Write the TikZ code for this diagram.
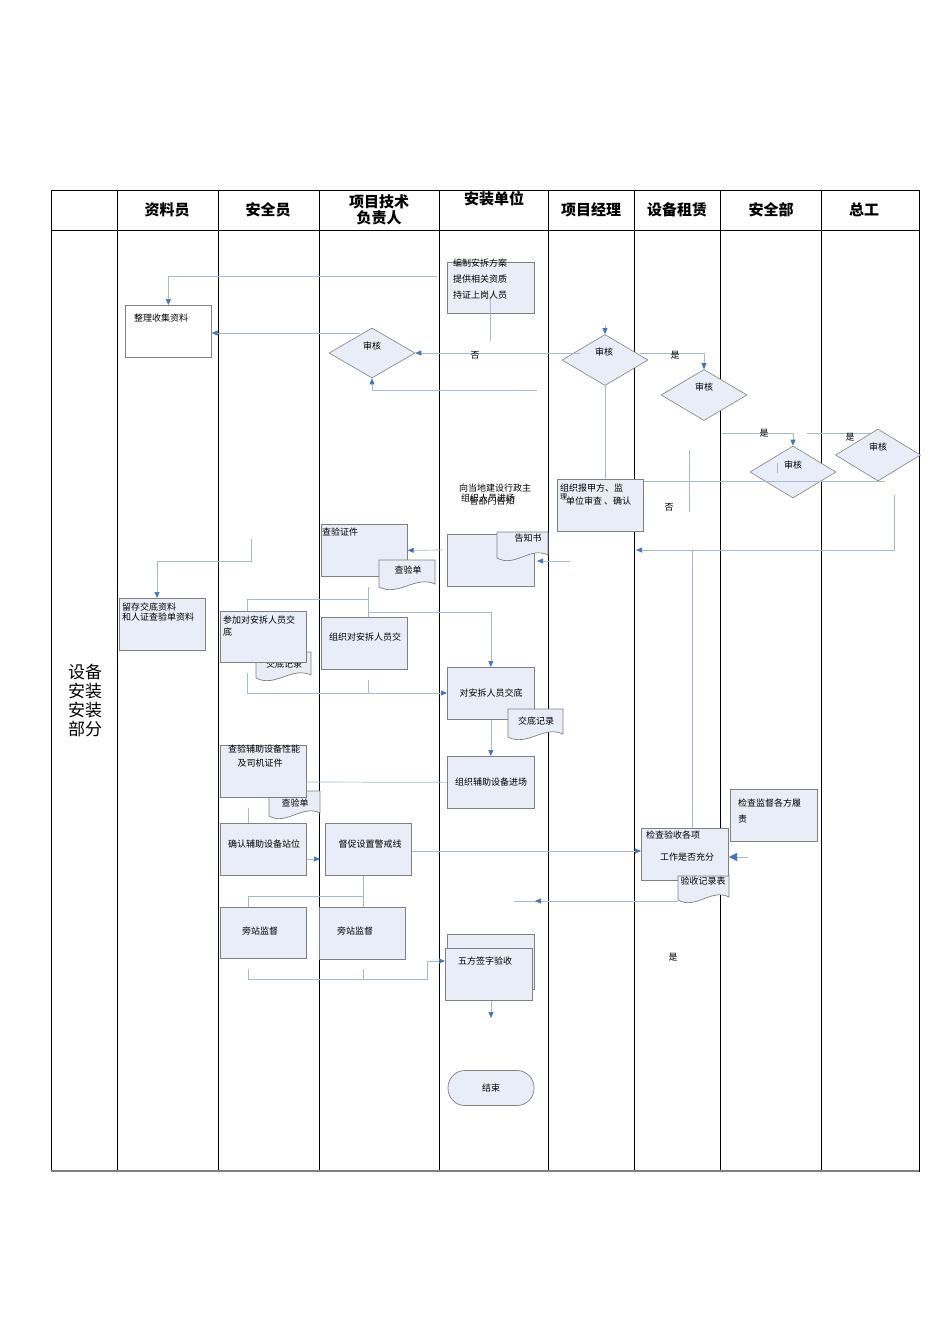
\documentclass[tikz,border=0pt]{standalone}
\usepackage{fontspec}
\setmainfont{Noto Sans CJK SC}
\usetikzlibrary{shapes.geometric,arrows.meta}
\definecolor{boxfill}{RGB}{232,237,247}
\definecolor{boxdraw}{RGB}{128,128,128}
\definecolor{connc}{RGB}{165,184,214}
\definecolor{arrc}{RGB}{68,114,196}
\tikzset{
 tbl/.style={draw=black, line width=0.8pt},
 flowbox/.style={draw=boxdraw, fill=boxfill, line width=0.7pt, inner sep=0pt},
 whitebox/.style={draw=boxdraw, fill=white, line width=0.7pt, inner sep=0pt},
 decision/.style={diamond, draw=boxdraw, fill=boxfill, line width=0.6pt, inner sep=0pt},
 flowdoc/.style={draw=boxdraw, fill=boxfill, line width=0.7pt},
 txt/.style={inner sep=0pt, font=\fontsize{9}{10}\selectfont},
 head/.style={inner sep=0pt, align=center, font=\fontsize{15}{16}\selectfont\bfseries},
 conn/.style={draw=connc, line width=0.7pt, -{Triangle[length=6pt,width=5pt,color=arrc,fill=arrc]}},
 bigconn/.style={draw=connc, line width=0.9pt, -{Triangle[length=8pt,width=8pt,color=arrc,fill=arrc]}},
 plainline/.style={draw=connc, line width=0.7pt},
}
\newcommand\docshape[4]{\path[flowdoc] (#1,#2) -- (#3,#2) -- (#3,{#4-3}) .. controls ({#1+0.65*(#3-#1)},{#4-12}) and ({#1+0.35*(#3-#1)},{#4+10}) .. (#1,#4) -- cycle;}
\begin{document}
\begin{tikzpicture}[x=1pt,y=-1pt]
\useasboundingbox[fill=white] (0,0) rectangle (950,1344);
% table
\draw[tbl] (51,190) rectangle (919,1171);
\draw[tbl] (51,230) -- (919,230);
\foreach \x in {117,218,319,439,548,634,720,821} \draw[tbl] (\x,190) -- (\x,1171);
\draw[line width=2pt, draw=gray] (51,1171) -- (919,1171);
% headers
\node[head] (h1) at (167,210) {资料员};
\node[head] (h2) at (268,210) {安全员};
\node[head] (h3a) at (379,202) {项目技术};
\node[head] (h3b) at (379,218) {负责人};
\node[head] (h4) at (494,199) {安装单位};
\node[head] (h5) at (591,210) {项目经理};
\node[head] (h6) at (677,210) {设备租赁};
\node[head] (h7) at (771,210) {安全部};
\node[head] (h8) at (864,210) {总工};
\node[inner sep=0pt, align=center, font=\fontsize{17}{19}\selectfont] (lane) at (85,701) {设备\\安装\\安装\\部分};
% shapes
\node[flowbox, minimum width=87pt, minimum height=51pt, anchor=north west] (b1) at (447,262) {};
\node[whitebox, minimum width=86pt, minimum height=52pt, anchor=north west] (b2) at (125,305) {};
\node[decision, minimum width=86pt, minimum height=50pt] (d1) at (372,353) {};
\node[decision, minimum width=86pt, minimum height=51pt] (d2) at (605,360) {};
\node[decision, minimum width=86pt, minimum height=51pt] (d3) at (704,395) {};
\node[decision, minimum width=86pt, minimum height=52pt] (d4) at (793,472) {};
\node[decision, minimum width=85pt, minimum height=52pt] (d5) at (878,455) {};
\node[flowbox, minimum width=86pt, minimum height=52pt, anchor=north west] (b3) at (557,479) {};
\node[flowbox, minimum width=86pt, minimum height=52pt, anchor=north west] (b4) at (321,524) {};
\docshape{379}{560}{435}{587}
\node[flowbox, minimum width=87pt, minimum height=52pt, anchor=north west] (b5) at (447,534) {};
\docshape{497}{532}{548}{558}
\node[flowbox, minimum width=86pt, minimum height=52pt, anchor=north west] (b6) at (119,598) {};
\docshape{256}{652}{311}{678}
\node[txt] (tdoc3) at (284,664) {交底记录};
\node[flowbox, minimum width=86pt, minimum height=51pt, anchor=north west] (b7) at (220,611) {};
\node[flowbox, minimum width=86pt, minimum height=52pt, anchor=north west] (b8) at (321,617) {};
\node[flowbox, minimum width=87pt, minimum height=52pt, anchor=north west] (b9) at (447,667) {};
\docshape{508}{709}{563}{737}
\docshape{269}{791}{320}{816}
\node[flowbox, minimum width=86pt, minimum height=52pt, anchor=north west] (b10) at (220,745) {};
\node[flowbox, minimum width=87pt, minimum height=52pt, anchor=north west] (b11) at (447,756) {};
\node[flowbox, minimum width=86pt, minimum height=52pt, anchor=north west] (b12) at (220,823) {};
\node[flowbox, minimum width=86pt, minimum height=52pt, anchor=north west] (b13) at (325,823) {};
\node[flowbox, minimum width=87pt, minimum height=52pt, anchor=north west] (b14) at (730,789) {};
\node[flowbox, minimum width=87pt, minimum height=52pt, anchor=north west] (b15) at (641,828) {};
\docshape{678}{876}{729}{900}
\node[flowbox, minimum width=86pt, minimum height=51pt, anchor=north west] (b16) at (220,907) {};
\node[flowbox, minimum width=86pt, minimum height=52pt, anchor=north west] (b17) at (319,907) {};
\node[flowbox, minimum width=87pt, minimum height=55pt, anchor=north west] (b18) at (447,934) {};
\node[flowbox, minimum width=87pt, minimum height=52pt, anchor=north west] (b19) at (445,948) {};
\node[flowbox, rounded corners=17pt, minimum width=86pt, minimum height=35pt] (end) at (491,1088) {};
% connectors
\coordinate (a0) at (437,276);
\draw[conn] (a0) -| (b2.north);
\draw[plainline] (490,297) -- (490,341);
\draw[conn] (580,353) -- (d1.east);
\draw[conn] (360,333) -- (b2.east |- 0,333);
\draw[conn] (537,390) -| (d1.south);
\draw[conn] (605,325) -- (d2.north);
\draw[conn] (640,353) -| (d3.north);
\draw[plainline] (d2.south) -- (b3.north -| d2.south);
\draw[conn] (722,433) -| (d4.north);
\draw[plainline] (807,433) -- (870,433);
\draw[plainline] (777,463) -- (777,473);
\draw[plainline] (b3.east |- 0,481) -- (885,481);
\draw[plainline] (689,450) -- (689,512);
\draw[conn] (894,495) |- (636,550);
\draw[plainline] (692,550) -- (b15.north -| 692,0);
\draw[conn] (570,561) -- (537,561);
\draw[conn] (443,550) -- (b4.east);
\draw[conn] (251,539) |- (157,561) -- (157,598);
\draw[plainline] (368,587) -- (b8.north -| 368,0);
\draw[plainline] (247,611) |- (368,599);
\draw[conn] (368,612) -| (b9.north);
\draw[conn] (247,673) |- (b9.west |- 0,693);
\draw[plainline] (368,680) -- (368,693);
\draw[conn] (b9.south) -- (b11.north);
\draw[plainline] (b10.east |- 0,782) -- (b11.west);
\draw[plainline] (248,808) -- (248,823);
\draw[conn] (b12.east |- 0,859) -- (320,859);
\draw[conn] (b13.east |- 0,851) -- (b15.west |- 0,851);
\draw[bigconn] (748,857) -- (729,857);
\draw[plainline] (678,901) -- (514,901);
\draw[conn] (560,901) -- (535,901);
\draw[plainline] (b13.south -| 363,0) -- (b17.north -| 363,0);
\draw[plainline] (b16.north -| 248,0) |- (363,896);
\draw[conn] (248,969) -- (248,979) -- (427,979) -- (427,961) -- (b19.west |- 0,961);
\draw[plainline] (363,969) -- (363,979);
\draw[conn] (b19.south -| 491,0) -- (491,1018);
% texts
\node[txt, anchor=west] (t1a) at (453,263) {编制安拆方案};
\node[txt, anchor=west] (t1b) at (453,279) {提供相关资质};
\node[txt, anchor=west] (t1c) at (453,295) {持证上岗人员};
\node[txt, anchor=west] (t2) at (134,318) {整理收集资料};
\node[txt] (td1) at (372,346) {审核};
\node[txt] (td2) at (604,352) {审核};
\node[txt] (td3) at (704,387) {审核};
\node[txt] (td4) at (793,465) {审核};
\node[txt] (td5) at (878,447) {审核};
\node[txt, anchor=west] (t3a) at (560,488) {组织报甲方、监};
\node[txt, anchor=west, font=\fontsize{7}{8}\selectfont] (t3b) at (560,497) {理};
\node[txt, anchor=west] (t3c) at (566,501) {单位审查 、确认};
\node[txt] (tg1) at (495,488) {向当地建设行政主};
\node[txt] (tg2) at (488,498) {组织人员进场};
\node[txt] (tg3) at (492,501) {管部门告知};
\node[txt, anchor=west] (t4) at (322,532) {查验证件};
\node[txt] (tdoc1) at (408,570) {查验单};
\node[txt] (tdoc2) at (528,538) {告知书};
\node[txt, anchor=west] (t6a) at (122,607) {留存交底资料};
\node[txt, anchor=west] (t6b) at (122,617) {和人证查验单资料};
\node[txt, anchor=west] (t7a) at (223,620) {参加对安拆人员交};
\node[txt, anchor=west] (t7b) at (223,632) {底};
\node[txt] (t8) at (365,637) {组织对安拆人员交};
\node[txt] (t9) at (491,693) {对安拆人员交底};
\node[txt] (tdoc4) at (536,721) {交底记录};
\node[txt] (t10a) at (264,749) {查验辅助设备性能};
\node[txt] (t10b) at (260,763) {及司机证件};
\node[txt] (tdoc5) at (295,803) {查验单};
\node[txt] (t11) at (491,782) {组织辅助设备进场};
\node[txt] (t12) at (264,844) {确认辅助设备站位};
\node[txt] (t13) at (370,844) {督促设置警戒线};
\node[txt, anchor=west] (t14a) at (738,803) {检查监督各方履};
\node[txt, anchor=west] (t14b) at (738,819) {责};
\node[txt, anchor=west] (t15a) at (646,835) {检查验收各项};
\node[txt] (t15b) at (687,857) {工作是否充分};
\node[txt] (tdoc6) at (703,881) {验收记录表};
\node[txt] (t16) at (260,931) {旁站监督};
\node[txt] (t17) at (355,931) {旁站监督};
\node[txt] (t19) at (485,961) {五方签字验收};
\node[txt] (tend) at (491,1088) {结束};
\node[txt] (l1) at (475,355) {否};
\node[txt] (l2) at (675,355) {是};
\node[txt] (l3) at (764,433) {是};
\node[txt] (l4) at (850,437) {是};
\node[txt] (l5) at (669,507) {否};
\node[txt] (l6) at (673,957) {是};
\end{tikzpicture}
\end{document}
